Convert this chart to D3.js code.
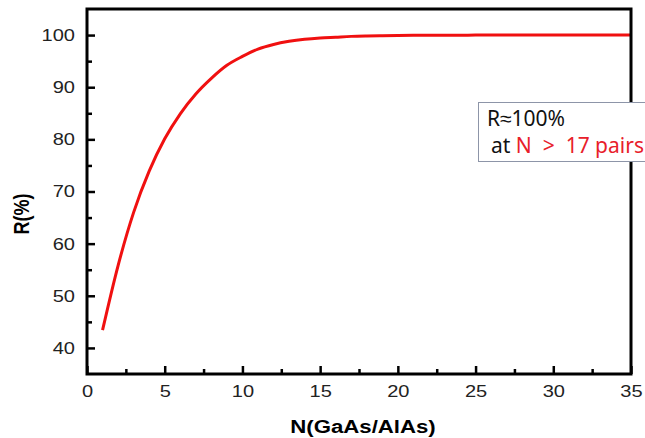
<!DOCTYPE html>
<html>
<head>
<meta charset="utf-8">
<script src="https://cdn.jsdelivr.net/npm/d3@7"></script>
<style>
  body { margin: 0; background: #fff; }
  svg { display: block; }
</style>
</head>
<body>
<div class="chart"></div>
<script>
// number of GaAs/AlAs pairs and reflectance
const pairs = [1, 2, 3, 4, 5, 6, 7, 8, 9, 10, 11, 12, 13, 14, 15, 16, 17, 18, 19, 20,
    21, 22, 23, 24, 25, 26, 27, 28, 29, 30, 31, 32, 33, 34, 35];
const reflect = [43.4, 55.8, 66.0, 73.9, 80.1, 84.9, 88.7, 91.7, 94.2, 95.9, 97.3, 98.2, 98.8, 99.2, 99.45, 99.6, 99.75, 99.83, 99.88, 99.92,
    99.95, 99.96, 99.97, 99.98, 99.99, 100, 100, 100, 100, 100, 100, 100, 100, 100, 100];
const xTicks = [0, 5, 10, 15, 20, 25, 30, 35];
const xMinor = [2.5, 7.5, 12.5, 17.5, 22.5, 27.5, 32.5];
const yTicks = [40, 50, 60, 70, 80, 90, 100];
const yMinor = [45, 55, 65, 75, 85, 95];

const data = pairs.map((n, i) => ({ n: n, r: reflect[i] }));

const W = 645, H = 438;
const margin = ({ left: 87, right: 14, top: 9, bottom: 64 });
const width = W - margin.left - margin.right,
    height = H - margin.top - margin.bottom;
const stretch = 1.18;

const svg = d3.select(".chart").append("svg")
    .attr("width", W)
    .attr("height", H);

const g = svg.append("g")
    .attr("transform", "translate(" + margin.left + "," + margin.top + ")");

const xScale = d3.scaleLinear().domain([0, 35]).range([0, width]);
const yScale = d3.scaleLinear().domain([35, 105]).range([height, 0]);

// minor ticks
g.append("g")
    .attr("transform", `translate(0, ${height})`)
    .call(d3.axisBottom(xScale).tickValues(xMinor).tickSize(-5).tickFormat(""))
    .call(a => a.select(".domain").remove())
    .selectAll("line").attr("stroke-width", 2.5);

g.append("g")
    .call(d3.axisLeft(yScale).tickValues(yMinor).tickSize(-5).tickFormat(""))
    .call(a => a.select(".domain").remove())
    .selectAll("line").attr("stroke-width", 2.5);

// major ticks
g.append("g")
    .attr("class", "axis x-axis")
    .attr("transform", `translate(0, ${height})`)
    .call(d3.axisBottom(xScale).tickValues(xTicks).tickSize(-8).tickPadding(11))
    .call(a => a.select(".domain").remove())
    .call(a => a.selectAll("line").attr("stroke-width", 2.5))
    .selectAll("text")
    .attr("font-family", "'Liberation Sans', Arial, sans-serif")
    .attr("font-size", 17)
    .attr("fill", "#222")
    .attr("transform", `scale(${stretch},1)`);

g.append("g")
    .attr("class", "axis y-axis")
    .call(d3.axisLeft(yScale).tickValues(yTicks).tickSize(-8).tickPadding(12))
    .call(a => a.select(".domain").remove())
    .call(a => a.selectAll("line").attr("stroke-width", 2.5))
    .selectAll("text")
    .attr("font-family", "'Liberation Sans', Arial, sans-serif")
    .attr("font-size", 17)
    .attr("fill", "#222")
    .attr("x", -12 / stretch)
    .attr("transform", `scale(${stretch},1)`);

// curve
const line = d3.line()
    .x(d => xScale(d.n))
    .y(d => yScale(d.r))
    .curve(d3.curveMonotoneX);

g.append("path")
    .datum(data)
    .attr("fill", "none")
    .attr("stroke", "#f01010")
    .attr("stroke-width", 3)
    .attr("stroke-linejoin", "round")
    .attr("d", line);

// frame
g.append("rect")
    .attr("width", width)
    .attr("height", height)
    .attr("fill", "none")
    .attr("stroke", "black")
    .attr("stroke-width", 3);

// axis titles
svg.append("g")
    .attr("transform", `translate(${margin.left + width / 2 + 4}, 433) scale(1.2,1)`)
    .append("text")
    .attr("text-anchor", "middle")
    .attr("font-family", "'Liberation Sans', Arial, sans-serif")
    .attr("font-weight", "bold")
    .attr("font-size", 18.5)
    .text("N(GaAs/AlAs)");

svg.append("g")
    .attr("transform", "translate(29, 214) scale(1.2,1) rotate(-90)")
    .append("text")
    .attr("text-anchor", "middle")
    .attr("font-family", "'Liberation Sans', Arial, sans-serif")
    .attr("font-weight", "bold")
    .attr("font-size", 18)
    .text("R(%)");

// annotation box
const note = svg.append("g").attr("transform", "translate(478, 102)");
note.append("rect")
    .attr("x", 0.5)
    .attr("y", 0.5)
    .attr("width", 200)
    .attr("height", 59)
    .attr("fill", "white")
    .attr("stroke", "#8d95a8")
    .attr("stroke-width", 1);

note.append("text")
    .attr("x", 9)
    .attr("y", 24)
    .attr("font-family", "'Noto Sans', sans-serif")
    .attr("font-size", 21)
    .attr("fill", "#111")
    .text("R\u2248100%");

const t2 = note.append("text")
    .attr("x", 13)
    .attr("y", 51)
    .attr("font-family", "'Noto Sans', sans-serif")
    .attr("font-size", 21)
    .attr("fill", "#111")
    .attr("style", "white-space: pre");
t2.append("tspan").text("at ");
t2.append("tspan").attr("fill", "#e8202a").text("N  >  17 pairs");
</script>
</body>
</html>
